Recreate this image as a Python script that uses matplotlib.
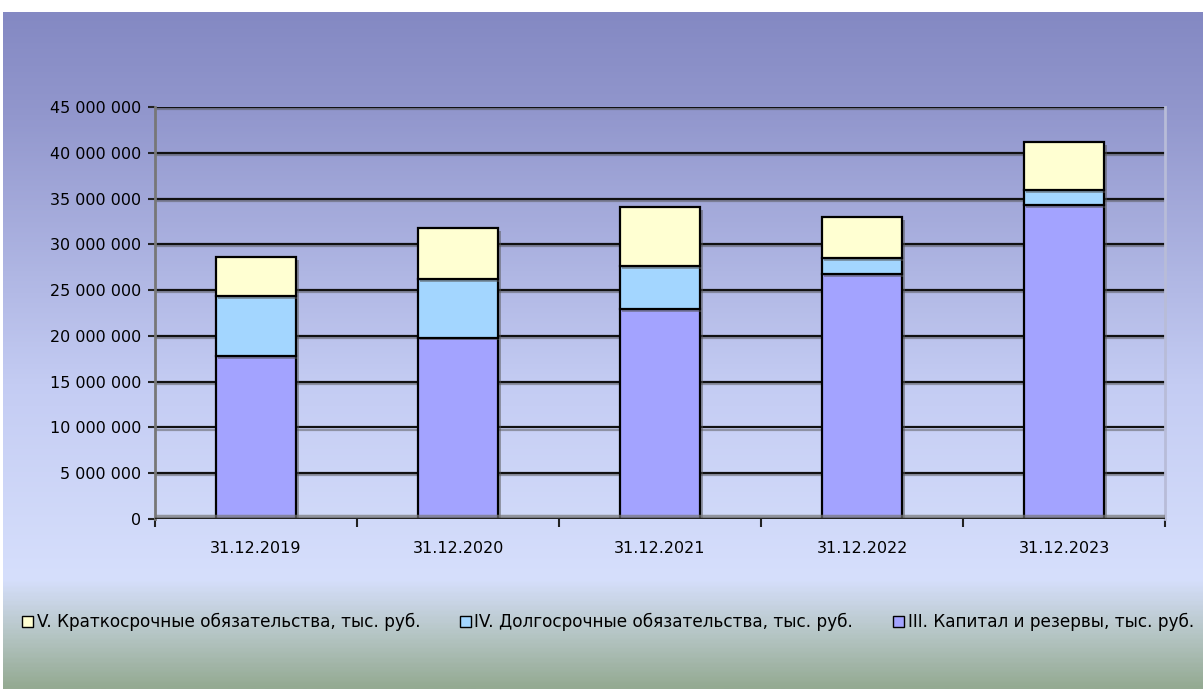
# Balance sheet liabilities structure, stacked bars (Excel-like style)

import numpy as np
import matplotlib
matplotlib.use('Agg')
import matplotlib.pyplot as plt
from matplotlib import patheffects as pe
from matplotlib.colors import LinearSegmentedColormap
from matplotlib.ticker import FuncFormatter, MultipleLocator

# --- Data ---
dates = ['31.12.2019', '31.12.2020', '31.12.2021', '31.12.2022', '31.12.2023']
capital = [17_800_000, 19_800_000, 22_900_000, 26_750_000, 34_300_000]
long_term = [6_550_000, 6_400_000, 4_700_000, 1_750_000, 1_600_000]
short_term = [4_250_000, 5_600_000, 6_500_000, 4_500_000, 5_300_000]

labels = ['III. Капитал и резервы, тыс. руб.',
          'IV. Долгосрочные обязательства, тыс. руб.',
          'V. Краткосрочные обязательства, тыс. руб.']
colors = ['#A3A3FF', '#A3D6FF', '#FFFFD2']

W, H = 1203, 689
fig = plt.figure(figsize=(W / 100, H / 100), dpi=100)
fig.patch.set_facecolor('white')

# --- Background gradient (chart area) ---
bg = fig.add_axes([3 / W, 0, 1 - 3 / W, 1 - 12 / H], zorder=-10)
bg.set_axis_off()
stops = [(0.0, '#8489C3'), (0.15, '#9297CD'), (0.55, '#C4CCF3'),
         (0.84, '#D6DFFC'), (0.92, '#B6C6C6'), (1.0, '#94AA92')]
cmap = LinearSegmentedColormap.from_list('bg', stops)
grad = np.linspace(0, 1, 400).reshape(-1, 1)
bg.imshow(grad, aspect='auto', cmap=cmap, extent=[0, 1, 0, 1], origin='upper')
bg.set_xlim(0, 1)
bg.set_ylim(0, 1)

# --- Main plot ---
ax = fig.add_axes([155 / W, 1 - 519 / H, (1165 - 155) / W, (519 - 107) / H])
ax.patch.set_alpha(0)

x = np.arange(len(dates))
shadow = [pe.SimplePatchShadow(offset=(2, -2), shadow_rgbFace='#555555', alpha=0.5), pe.Normal()]

bottom = np.zeros(len(dates))
series = [capital, long_term, short_term]
for vals, col, lab in zip(series, colors, labels):
    bars = ax.bar(x, vals, width=0.4, bottom=bottom, color=col, edgecolor='black',
                  linewidth=1.6, label=lab, zorder=3)
    for b in bars:
        b.set_path_effects(shadow)
    bottom += np.array(vals)

ax.set_xlim(-0.5, len(dates) - 0.5)
ax.set_ylim(0, 45_000_000)
ax.yaxis.set_major_locator(MultipleLocator(5_000_000))
ax.yaxis.set_major_formatter(FuncFormatter(lambda v, p: f'{int(v):,}'.replace(',', ' ')))

# gridlines with a light shadow
line_fx = [pe.SimpleLineShadow(offset=(1, -1.5), shadow_color='#555555', alpha=0.5), pe.Normal()]
for yv in np.arange(5_000_000, 45_000_001, 5_000_000):
    ax.axhline(yv, color='#111111', linewidth=1.6, zorder=1, path_effects=line_fx)
ax.axhline(0, color='#222222', linewidth=2.5, zorder=4,
           path_effects=[pe.SimpleLineShadow(offset=(1, 2), shadow_color='#777777', alpha=0.7), pe.Normal()])

for side in ['top', 'bottom']:
    ax.spines[side].set_visible(False)
ax.spines['left'].set_color('#777777')
ax.spines['left'].set_linewidth(2)
ax.spines['right'].set_color('#B8BCD8')
ax.spines['right'].set_linewidth(2)

ax.set_xticks(x)
ax.set_xticklabels(dates)
ax.set_xticks(np.arange(-0.5, len(dates), 1), minor=True)
ax.tick_params(axis='x', which='major', length=0, pad=16, labelsize=11.5)
ax.tick_params(axis='x', which='minor', length=6, width=1.5, direction='out', color='#222222')
ax.tick_params(axis='y', length=5, width=1.5, direction='out', color='#222222', labelsize=11.5, pad=5)

# --- Legend ---
handles, labs = ax.get_legend_handles_labels()
leg = fig.legend(handles[::-1], labs[::-1], loc='center', bbox_to_anchor=(0.5054, 1 - 622 / H),
                 ncol=3, frameon=False, fontsize=12.2, handlelength=0.65, handleheight=0.65,
                 handletextpad=0.2, columnspacing=2.35)
for h in leg.legend_handles:
    h.set_path_effects([])
    h.set_linewidth(1)

fig.savefig('out.png', dpi=100)
print("done")
